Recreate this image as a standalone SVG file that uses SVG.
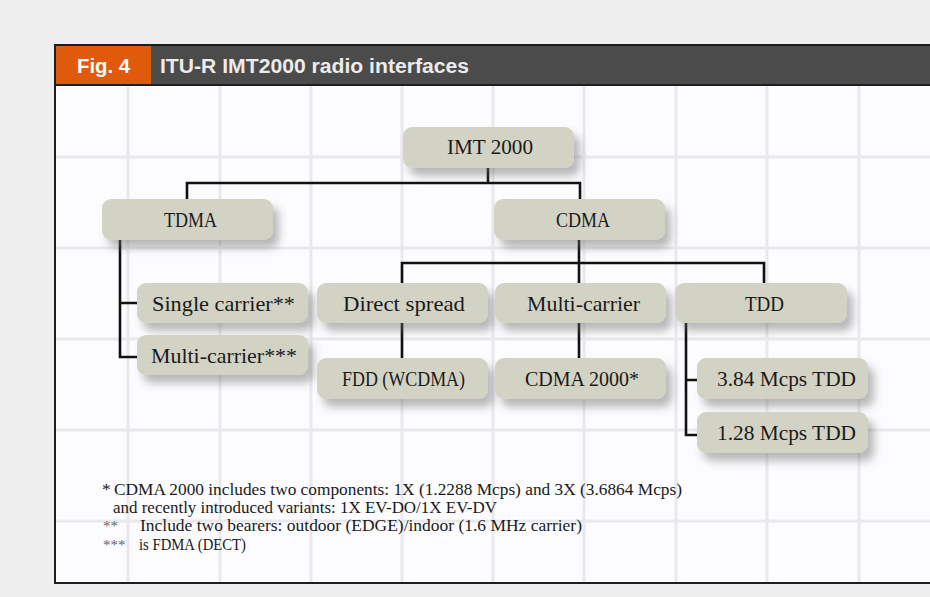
<svg xmlns="http://www.w3.org/2000/svg" width="930" height="597" viewBox="0 0 930 597">
<defs>
<style>
.grid line{stroke:#e9e9ed;stroke-width:3}
.box{fill:#d3d3c5;filter:url(#sh)}
.nt{font-family:"Liberation Serif","Times New Roman",serif;font-size:21.5px;fill:#1a1a1a}
.ft{font-family:"Liberation Serif","Times New Roman",serif;font-size:17.5px;fill:#1a1a1a}
.st{font-family:"Liberation Serif","Times New Roman",serif;font-size:15px;fill:#666}
.hd{font-family:"Liberation Sans",Arial,sans-serif;font-weight:bold;font-size:20px}
.conn path{fill:none;stroke:#111;stroke-width:2.6}
</style>
<filter id="sh" x="-20%" y="-30%" width="150%" height="190%">
<feDropShadow dx="6" dy="8" stdDeviation="4" flood-color="#666" flood-opacity="0.45"/>
</filter>
</defs>
<rect width="930" height="597" fill="#efeeee"/>
<rect x="55" y="45" width="900" height="538" fill="#fcfcfe"/>
<g class="grid">
<line x1="128" y1="86" x2="128" y2="582"/>
<line x1="220" y1="86" x2="220" y2="582"/>
<line x1="311" y1="86" x2="311" y2="582"/>
<line x1="402" y1="86" x2="402" y2="582"/>
<line x1="493" y1="86" x2="493" y2="582"/>
<line x1="584" y1="86" x2="584" y2="582"/>
<line x1="676" y1="86" x2="676" y2="582"/>
<line x1="767" y1="86" x2="767" y2="582"/>
<line x1="859" y1="86" x2="859" y2="582"/>
<line x1="56" y1="157" x2="930" y2="157"/>
<line x1="56" y1="248" x2="930" y2="248"/>
<line x1="56" y1="339" x2="930" y2="339"/>
<line x1="56" y1="430" x2="930" y2="430"/>
<line x1="56" y1="521" x2="930" y2="521"/>
</g>
<g id="header">
<rect x="55" y="45" width="900" height="40" fill="#4b4b4b"/>
<rect x="55" y="45" width="96" height="40" fill="#e05a0b"/>
<text class="hd" x="77" y="73" fill="#ffffff" textLength="53" lengthAdjust="spacingAndGlyphs">Fig. 4</text>
<text class="hd" x="160" y="73" fill="#ececec" textLength="309" lengthAdjust="spacingAndGlyphs">ITU-R IMT2000 radio interfaces</text>
<line x1="55" y1="85" x2="955" y2="85" stroke="#1e1e1e" stroke-width="2"/>
</g>
<rect x="55" y="45" width="900" height="538" fill="none" stroke="#1e1e1e" stroke-width="2"/>
<g class="conn" id="connectors">
<path d="M488 168V183M187 199V183H580V199"/>
<path d="M579 240V283M402 283V263H764V283"/>
<path d="M120 240V357H137M120 303H137"/>
<path d="M402 323V358"/>
<path d="M579 323V358"/>
<path d="M686 323V435H697M686 380H697"/>
</g>
<g id="n-imt2000"><rect class="box" x="403" y="127" width="171" height="41" rx="9"/><text class="nt" x="447" y="154" textLength="86" lengthAdjust="spacingAndGlyphs">IMT 2000</text></g>
<g id="n-tdma"><rect class="box" x="102" y="199" width="171" height="41" rx="9"/><text class="nt" x="164" y="227" textLength="53" lengthAdjust="spacingAndGlyphs">TDMA</text></g>
<g id="n-cdma"><rect class="box" x="494" y="199" width="171" height="41" rx="9"/><text class="nt" x="556" y="227" textLength="54" lengthAdjust="spacingAndGlyphs">CDMA</text></g>
<g id="n-single"><rect class="box" x="137" y="283" width="171" height="40" rx="9"/><text class="nt" x="152" y="311" textLength="143" lengthAdjust="spacingAndGlyphs">Single carrier**</text></g>
<g id="n-multi-tdma"><rect class="box" x="137" y="335" width="171" height="40" rx="9"/><text class="nt" x="151" y="363" textLength="146" lengthAdjust="spacingAndGlyphs">Multi-carrier***</text></g>
<g id="n-direct"><rect class="box" x="317" y="283" width="171" height="40" rx="9"/><text class="nt" x="343" y="311" textLength="122" lengthAdjust="spacingAndGlyphs">Direct spread</text></g>
<g id="n-multi-cdma"><rect class="box" x="495" y="283" width="171" height="40" rx="9"/><text class="nt" x="527" y="311" textLength="113" lengthAdjust="spacingAndGlyphs">Multi-carrier</text></g>
<g id="n-tdd"><rect class="box" x="675" y="283" width="172" height="40" rx="9"/><text class="nt" x="745" y="311" textLength="39" lengthAdjust="spacingAndGlyphs">TDD</text></g>
<g id="n-fdd"><rect class="box" x="317" y="358" width="171" height="41" rx="9"/><text class="nt" x="342" y="386" textLength="123" lengthAdjust="spacingAndGlyphs">FDD (WCDMA)</text></g>
<g id="n-cdma2000"><rect class="box" x="495" y="358" width="171" height="41" rx="9"/><text class="nt" x="525" y="386" textLength="114" lengthAdjust="spacingAndGlyphs">CDMA 2000*</text></g>
<g id="n-384"><rect class="box" x="697" y="358" width="171" height="41" rx="9"/><text class="nt" x="717" y="386" textLength="139" lengthAdjust="spacingAndGlyphs">3.84 Mcps TDD</text></g>
<g id="n-128"><rect class="box" x="697" y="412" width="171" height="41" rx="9"/><text class="nt" x="717" y="440" textLength="139" lengthAdjust="spacingAndGlyphs">1.28 Mcps TDD</text></g>
<g id="notes">
<text class="ft" x="102" y="495">*</text>
<text class="ft" x="114" y="495" textLength="568" lengthAdjust="spacingAndGlyphs">CDMA 2000 includes two components: 1X (1.2288 Mcps) and 3X (3.6864 Mcps)</text>
<text class="ft" x="113" y="513" textLength="384" lengthAdjust="spacingAndGlyphs">and recently introduced variants: 1X EV-DO/1X EV-DV</text>
<text class="st" x="103" y="531">**</text>
<text class="ft" x="140" y="531" textLength="442" lengthAdjust="spacingAndGlyphs">Include two bearers: outdoor (EDGE)/indoor (1.6 MHz carrier)</text>
<text class="st" x="103" y="550">***</text>
<text class="ft" x="139" y="550" textLength="107" lengthAdjust="spacingAndGlyphs">is FDMA (DECT)</text>
</g>
</svg>
